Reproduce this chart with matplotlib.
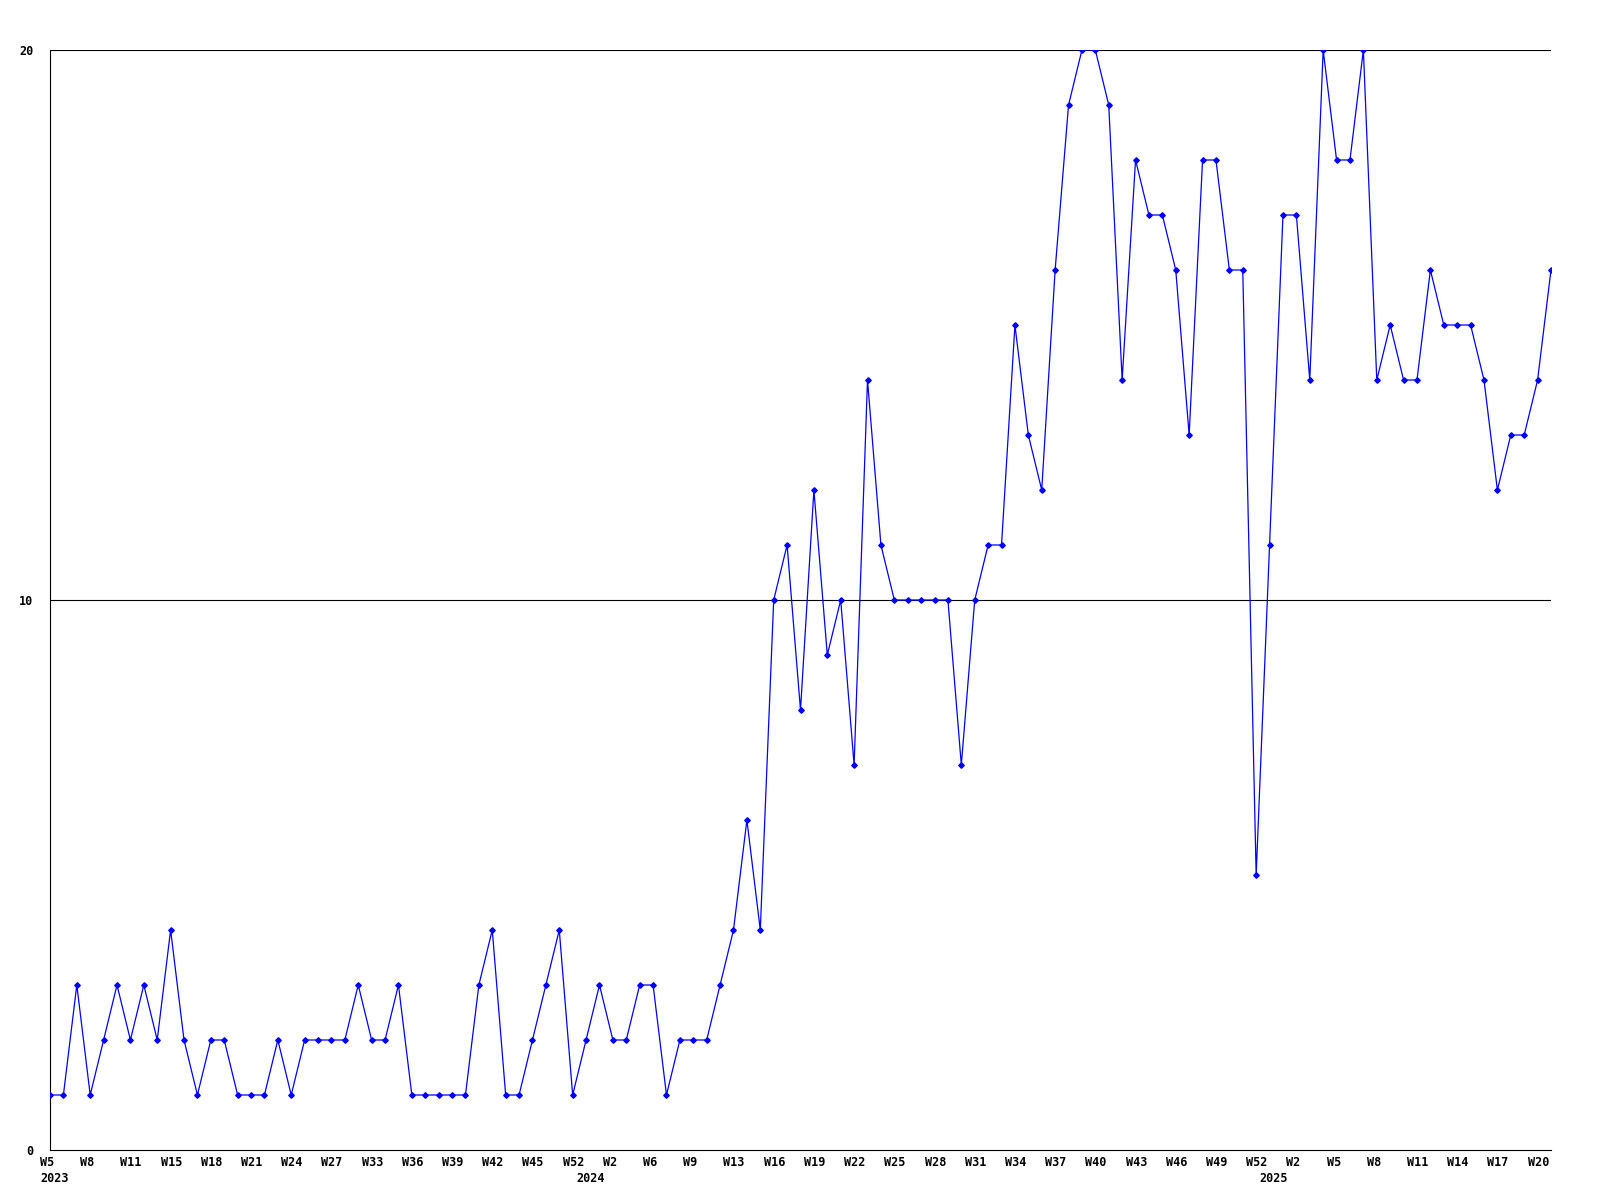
import matplotlib
matplotlib.use("Agg")
import matplotlib.pyplot as plt
from matplotlib.transforms import ScaledTranslation, blended_transform_factory

# ---- data ----
week_labels = ["W5", "W8", "W11", "W15", "W18", "W21", "W24", "W27", "W33", "W36",
               "W39", "W42", "W45", "W52", "W2", "W6", "W9", "W13", "W16", "W19",
               "W22", "W25", "W28", "W31", "W34", "W37", "W40", "W43", "W46", "W49",
               "W52", "W2", "W5", "W8", "W11", "W14", "W17", "W20"]
label_step = 3
year_labels = ["2023", "2024", "2025"]
year_positions = [0, 40, 91]
values = [1, 1, 3, 1, 2, 3, 2, 3, 2, 4,
          2, 1, 2, 2, 1, 1, 1, 2, 1, 2,
          2, 2, 2, 3, 2, 2, 3, 1, 1, 1,
          1, 1, 3, 4, 1, 1, 2, 3, 4, 1,
          2, 3, 2, 2, 3, 3, 1, 2, 2, 2,
          3, 4, 6, 4, 10, 11, 8, 12, 9, 10,
          7, 14, 11, 10, 10, 10, 10, 10, 7, 10,
          11, 11, 15, 13, 12, 16, 19, 20, 20, 19,
          14, 18, 17, 17, 16, 13, 18, 18, 16, 16,
          5, 11, 17, 17, 14, 20, 18, 18, 20, 14,
          15, 14, 14, 16, 15, 15, 15, 14, 12, 13,
          13, 14, 16]
y_ticks = [0, 10, 20]

# ---- figure ----
fig = plt.figure(figsize=(16, 12), dpi=100)
ax = fig.add_axes([50 / 1600, 1 - 1150 / 1200, (1551 - 50) / 1600, 1100 / 1200])

x = list(range(len(values)))
ax.plot(x, values, color="#0000FF", linewidth=0.9, marker="D", markersize=2.8,
        markerfacecolor="#0000FF", markeredgecolor="#0000FF", zorder=3)

ax.set_xlim(0, len(values) - 1)
ax.set_ylim(0, 20)

for v in [10, 20]:
    ax.axhline(v, color="black", linewidth=0.8, zorder=1)

for s in ["top", "right"]:
    ax.spines[s].set_visible(False)
for s in ["left", "bottom"]:
    ax.spines[s].set_color("black")
    ax.spines[s].set_linewidth(0.8)

font = dict(family="DejaVu Sans Mono", weight="bold", size=8.5)

ax.set_yticks(y_ticks)
ax.set_yticklabels([str(v) for v in y_ticks], **font)
ax.tick_params(axis="y", length=0, pad=12)

ax.set_xticks([])
offset = ScaledTranslation(-10 / 100, 0, fig.dpi_scale_trans)
trans = blended_transform_factory(ax.transData, fig.transFigure) + offset
for i, lab in enumerate(week_labels):
    ax.text(i * label_step, 1 - 1156 / 1200, lab, transform=trans,
            ha="left", va="top", **font)
for pos, lab in zip(year_positions, year_labels):
    ax.text(pos, 1 - 1172 / 1200, lab, transform=trans,
            ha="left", va="top", **font)

fig.savefig("out.png", dpi=100, facecolor="white")
